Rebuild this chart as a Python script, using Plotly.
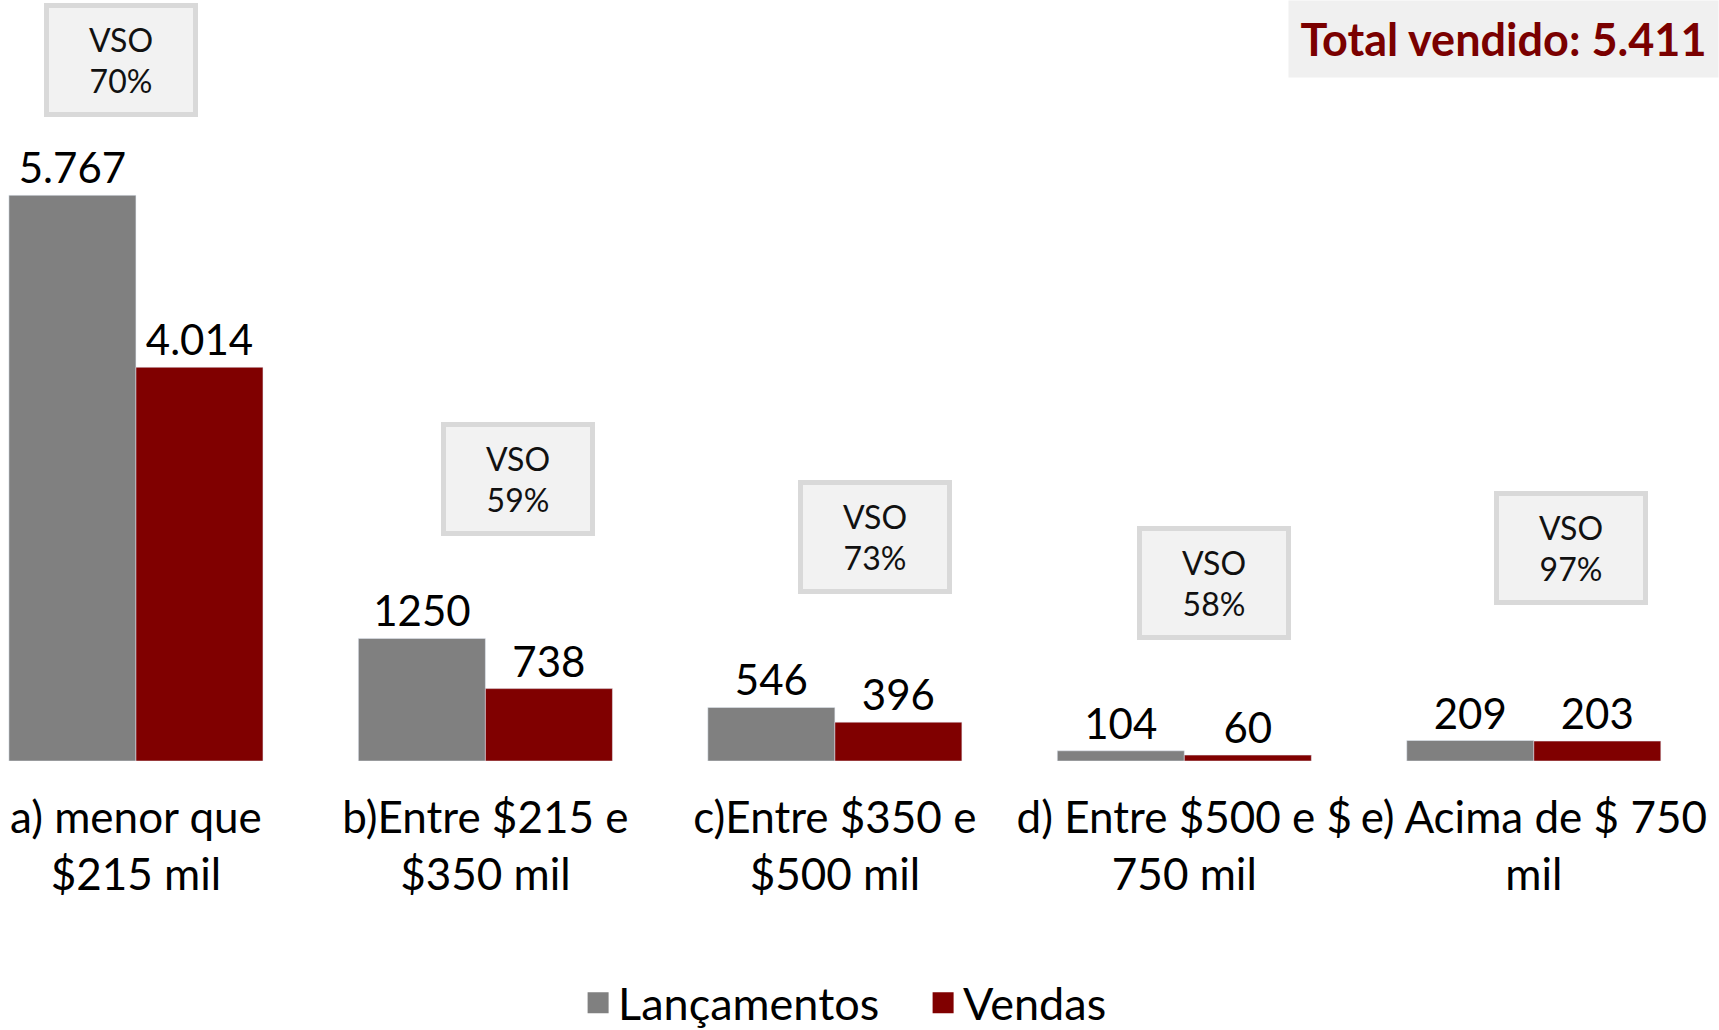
import plotly.graph_objects as go

# faixas de preço
categorias = [
    "a) menor que<br>$215 mil",
    "b)Entre $215 e<br>$350 mil",
    "c)Entre $350 e<br>$500 mil",
    "d) Entre $500 e $<br>750 mil",
    "e) Acima de $ 750<br>mil",
]
lancamentos = [5767, 1250, 546, 104, 209]
vendas = [4014, 738, 396, 60, 203]
# rótulos como aparecem no original (separador inconsistente)
lanc_labels = ["5.767", "1250", "546", "104", "209"]
vend_labels = ["4.014", "738", "396", "60", "203"]
vso = [70, 59, 73, 58, 97]
total_vendido = "5.411"

GRAY = "#808080"
RED = "#800000"
FONT = "Lato"

fig = go.Figure()
fig.add_trace(go.Bar(
    x=categorias, y=lancamentos, name="Lançamentos",
    marker=dict(color=GRAY), text=lanc_labels, textposition="outside",
    textfont=dict(size=42, color="black", family=FONT),
    constraintext="none", cliponaxis=False, showlegend=False,
))
fig.add_trace(go.Bar(
    x=categorias, y=vendas, name="Vendas",
    marker=dict(color=RED), text=vend_labels, textposition="outside",
    textfont=dict(size=42, color="black", family=FONT),
    constraintext="none", cliponaxis=False, showlegend=False,
))

# legend-only entries (bigger squares than the bar icons)
for nome, cor in [("Lançamentos", GRAY), ("Vendas", RED)]:
    fig.add_trace(go.Scatter(
        x=[None], y=[None], mode="markers", name=nome,
        marker=dict(symbol="square", size=16, color=cor, line=dict(color=cor, width=5)),
    ))

# caixas VSO (posições deslocadas como no original)
vso_dx = [-0.043, 0.092, 0.114, 0.086, 0.106]
vso_y = [7146, 2875, 2283, 1815, 2171]
for i, v in enumerate(vso):
    fig.add_annotation(
        x=i + vso_dx[i], y=vso_y[i], xref="x", yref="y",
        text=f"VSO<br>{v}%", showarrow=False,
        font=dict(size=32, color="#111111", family=FONT),
        bgcolor="#f2f2f2", bordercolor="#d9d9d9", borderwidth=5,
        borderpad=3, width=138, height=98,
    )

fig.add_annotation(
    x=1, y=1, xref="paper", yref="paper", xanchor="right", yanchor="top",
    text=f"<b>Total vendido: {total_vendido}</b>", showarrow=False,
    font=dict(size=45, color="#7a0000", family=FONT),
    bgcolor="#f0f0f0", width=425, height=72, borderpad=2,
)

fig.update_layout(
    width=1719, height=1030,
    margin=dict(l=0, r=0, t=0, b=269, autoexpand=False),
    paper_bgcolor="white", plot_bgcolor="white",
    barmode="group", bargap=0.273, bargroupgap=0,
    font=dict(family=FONT, color="black"),
    legend=dict(orientation="h", x=0.537, xanchor="center", y=-0.318, yanchor="middle",
                font=dict(size=45, family=FONT, color="black"),
                entrywidth=300, entrywidthmode="pixels"),
    xaxis=dict(range=[-0.389, 4.53], showgrid=False, showline=False, zeroline=False,
               tickfont=dict(size=44, family=FONT, color="black"), tickangle=0,
               ticks="", ticklabelstandoff=27, automargin=False),
    yaxis=dict(range=[0, 7758], visible=False, showgrid=False, automargin=False),
)

# page body has an 8px default margin; drop it so the figure fills the window
fig.write_html("out.html", config={"displayModeBar": False},
               post_script="document.body.style.margin='0';")
